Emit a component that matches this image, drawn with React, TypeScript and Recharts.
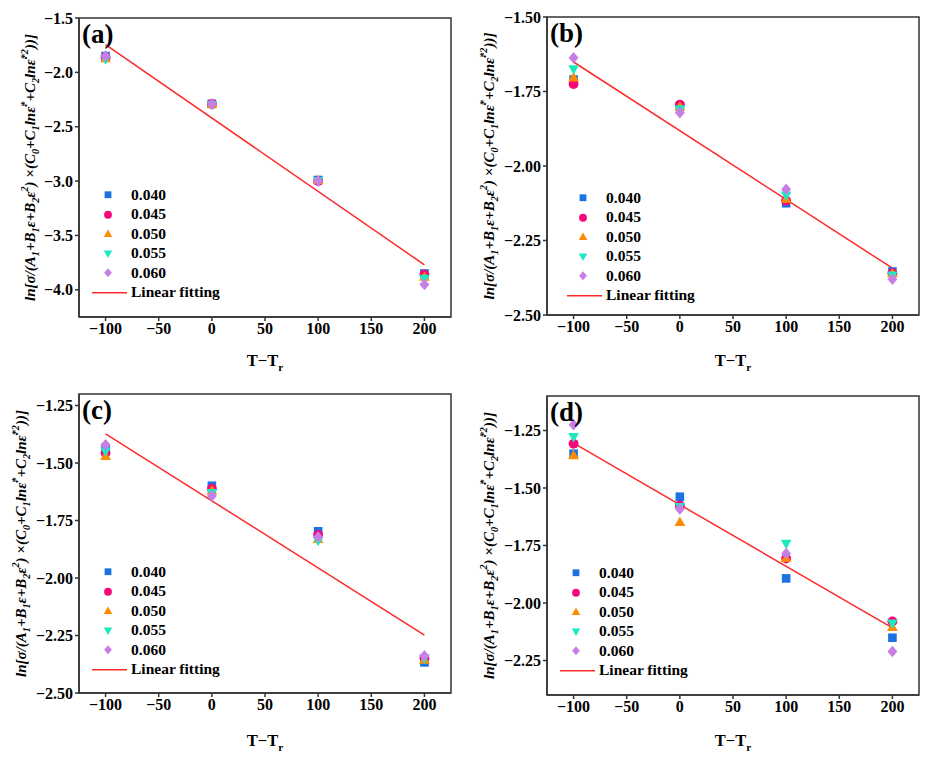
import { ScatterChart, Scatter, XAxis, YAxis, Legend, ReferenceArea } from 'recharts'

const FONT = '"Liberation Serif", "Times New Roman", "DejaVu Serif", serif'

const TEMPS = [-100, 0, 100, 200]
const STRAINS = ['0.040', '0.045', '0.050', '0.055', '0.060']
const X_TICKS = [-100, -50, 0, 50, 100, 150, 200]
const FIT_X = [-100, 200]

// (a)
const A_040 = [-1.85, -2.29, -2.99, -3.85]
const A_045 = [-1.86, -2.29, -3.0, -3.86]
const A_050 = [-1.87, -2.29, -2.99, -3.88]
const A_055 = [-1.88, -2.3, -3.0, -3.9]
const A_060 = [-1.85, -2.29, -3.0, -3.95]
const A_FIT = [-1.745, -3.77]
const A_TICKS = [-1.5, -2.0, -2.5, -3.0, -3.5, -4.0]

// (b)
const B_040 = [-1.71, -1.8, -2.125, -2.354]
const B_045 = [-1.725, -1.794, -2.117, -2.36]
const B_050 = [-1.703, -1.8, -2.11, -2.36]
const B_055 = [-1.676, -1.81, -2.099, -2.368]
const B_060 = [-1.637, -1.821, -2.078, -2.38]
const B_FIT = [-1.651, -2.343]
const B_TICKS = [-1.5, -1.75, -2.0, -2.25, -2.5]

// (c)
const C_040 = [-1.435, -1.599, -1.797, -2.367]
const C_045 = [-1.457, -1.612, -1.813, -2.348]
const C_050 = [-1.469, -1.619, -1.83, -2.355]
const C_055 = [-1.45, -1.631, -1.839, -2.35]
const C_060 = [-1.421, -1.643, -1.822, -2.338]
const C_FIT = [-1.373, -2.248]
const C_TICKS = [-1.25, -1.5, -1.75, -2.0, -2.25, -2.5]

// (d)
const D_040 = [-1.351, -1.538, -1.893, -2.151]
const D_045 = [-1.308, -1.576, -1.807, -2.08]
const D_050 = [-1.357, -1.647, -1.804, -2.104]
const D_055 = [-1.279, -1.583, -1.743, -2.09]
const D_060 = [-1.225, -1.591, -1.785, -2.211]
const D_FIT = [-1.305, -2.108]
const D_TICKS = [-1.25, -1.5, -1.75, -2.0, -2.25]

const MARKERS = [
  { kind: 'square', color: '#1a73e0' },
  { kind: 'circle', color: '#f5087a' },
  { kind: 'up', color: '#ff8c00' },
  { kind: 'down', color: '#1ee8c0' },
  { kind: 'diamond', color: '#c77fe6' },
]
const FIT_COLOR = '#ff2a2a'
const FRAME = '#333'

const PANELS = [
  { tag: '(a)', left: 0, top: 0, series: [A_040, A_045, A_050, A_055, A_060], fit: A_FIT, ticks: A_TICKS, domain: [-4.25, -1.5], digits: 1,
    box: { l: 79, r: 451, t: 18, b: 317 }, yLabelX: 30, legend: { x: 91, y: 185 } },
  { tag: '(b)', left: 464, top: 0, series: [B_040, B_045, B_050, B_055, B_060], fit: B_FIT, ticks: B_TICKS, domain: [-2.5, -1.5], digits: 2,
    box: { l: 83, r: 455, t: 17, b: 315 }, yLabelX: 25, legend: { x: 102, y: 188 } },
  { tag: '(c)', left: 0, top: 380, series: [C_040, C_045, C_050, C_055, C_060], fit: C_FIT, ticks: C_TICKS, domain: [-2.5, -1.2], digits: 2,
    box: { l: 79, r: 451, t: 14, b: 313 }, yLabelX: 21, legend: { x: 91, y: 182 } },
  { tag: '(d)', left: 464, top: 380, series: [D_040, D_045, D_050, D_055, D_060], fit: D_FIT, ticks: D_TICKS, domain: [-2.4, -1.1], digits: 2,
    box: { l: 83, r: 455, t: 16, b: 315 }, yLabelX: 25, legend: { x: 95, y: 183 } },
]

const W = 464
const H = 380
const ROW = 19.5

function Marker({ kind, cx, cy, color, s }: any) {
  if (kind === 'square') return <rect x={cx - s} y={cy - s} width={2 * s} height={2 * s} fill={color} />
  if (kind === 'circle') return <circle cx={cx} cy={cy} r={s * 1.15} fill={color} />
  if (kind === 'up')
    return <polygon points={`${cx},${cy - s * 1.25} ${cx + s * 1.25},${cy + s * 0.95} ${cx - s * 1.25},${cy + s * 0.95}`} fill={color} />
  if (kind === 'down')
    return <polygon points={`${cx},${cy + s * 1.25} ${cx + s * 1.25},${cy - s * 0.95} ${cx - s * 1.25},${cy - s * 0.95}`} fill={color} />
  return <polygon points={`${cx},${cy - s * 1.35} ${cx + s * 1.15},${cy} ${cx},${cy + s * 1.35} ${cx - s * 1.15},${cy}`} fill={color} />
}

function LegendBox() {
  return (
    <div style={{ fontFamily: FONT, fontWeight: 'bold', fontSize: 15.5, color: '#000' }}>
      {STRAINS.map((s, i) => (
        <div key={s} style={{ display: 'flex', alignItems: 'center', height: ROW }}>
          <svg width={40} height={ROW} style={{ display: 'block' }}>
            <Marker kind={MARKERS[i].kind} color={MARKERS[i].color} cx={17} cy={ROW / 2} s={3.4} />
          </svg>
          <span>{s}</span>
        </div>
      ))}
      <div style={{ display: 'flex', alignItems: 'center', height: ROW }}>
        <svg width={40} height={ROW} style={{ display: 'block' }}>
          <line x1={1} x2={36} y1={ROW / 2} y2={ROW / 2} stroke={FIT_COLOR} strokeWidth={1.5} />
        </svg>
        <span>Linear fitting</span>
      </div>
    </div>
  )
}

// label pieces: [text, 'sub' | 'sup' | undefined]
const Y_LABEL: [string, string?][] = [
  ['ln[σ/(A'], ['1', 'sub'], ['+B'], ['1', 'sub'], ['ε+B'], ['2', 'sub'], ['ε'], ['2', 'sup'],
  [') ×(C'], ['0', 'sub'], ['+C'], ['1', 'sub'], ['lnε̇'], ['*', 'sup'], ['+C'], ['2', 'sub'],
  ['lnε̇'], ['*2', 'sup'], ['))]'],
]

function richSpans(parts: [string, string?][], size: number) {
  let shift = 0
  const out: any[] = []
  parts.forEach(([t, kind], i) => {
    const target = kind === 'sub' ? size * 0.3 : kind === 'sup' ? -size * 0.4 : 0
    out.push(
      <tspan key={i} dy={target - shift} fontSize={kind ? size * 0.68 : size}>
        {t}
      </tspan>
    )
    shift = target
  })
  return out
}

function fmt(v: number, digits: number) {
  return v.toFixed(digits).replace('-', '\u2212')
}

function Panel({ cfg }: { cfg: (typeof PANELS)[number] }) {
  const { box } = cfg
  const cy = (box.t + box.b) / 2
  const cx = (box.l + box.r) / 2
  const tick = { fill: '#000', fontSize: 16, fontWeight: 'bold', fontFamily: FONT }
  return (
    <div style={{ position: 'absolute', left: cfg.left, top: cfg.top, width: W, height: H }}>
      <ScatterChart width={W} height={H} margin={{ top: box.t, right: W - box.r, bottom: 0, left: 0 }}>
        <XAxis
          type="number"
          dataKey="x"
          domain={[-125, 225]}
          ticks={X_TICKS}
          allowDataOverflow
          height={H - box.b}
          tick={tick}
          tickSize={4}
          tickLine={{ stroke: FRAME, strokeWidth: 1.5 }}
          axisLine={{ stroke: FRAME, strokeWidth: 1.5 }}
          tickFormatter={(v: number) => fmt(v, 0)}
          label={{
            content: () => (
              <text x={cx} y={366} textAnchor="middle" fontFamily={FONT} fontWeight="bold" fontSize={16.5} fill="#000">
                {richSpans([['T\u2212T'], ['r', 'sub']], 16.5)}
              </text>
            ),
          }}
        />
        <YAxis
          type="number"
          dataKey="y"
          domain={cfg.domain}
          ticks={cfg.ticks}
          allowDataOverflow
          width={box.l}
          tick={tick}
          tickSize={4}
          tickLine={{ stroke: FRAME, strokeWidth: 1.5 }}
          axisLine={{ stroke: FRAME, strokeWidth: 1.5 }}
          tickFormatter={(v: number) => fmt(v, cfg.digits)}
          label={{
            content: () => (
              <text
                x={cfg.yLabelX}
                y={cy}
                transform={`rotate(-90, ${cfg.yLabelX}, ${cy})`}
                textAnchor="middle"
                dominantBaseline="central"
                fontFamily={FONT}
                fontWeight="bold"
                fontStyle="italic"
                fontSize={15}
                fill="#000"
              >
                {richSpans(Y_LABEL, 15)}
              </text>
            ),
          }}
        />
        <ReferenceArea
          x1={-125}
          x2={225}
          y1={cfg.domain[0]}
          y2={cfg.domain[1]}
          fill="none"
          stroke={FRAME}
          strokeWidth={1.5}
          strokeOpacity={1}
        />
        <Scatter
          name="Linear fitting"
          data={FIT_X.map((x, i) => ({ x, y: cfg.fit[i] }))}
          line={{ stroke: FIT_COLOR, strokeWidth: 1.5 }}
          shape={() => <g />}
          isAnimationActive={false}
        />
        {cfg.series.map((vals, i) => (
          <Scatter
            key={STRAINS[i]}
            name={STRAINS[i]}
            data={TEMPS.map((x, j) => ({ x, y: vals[j] }))}
            fill={MARKERS[i].color}
            shape={(p: any) => <Marker kind={MARKERS[i].kind} color={MARKERS[i].color} cx={p.cx} cy={p.cy} s={4.3} />}
            isAnimationActive={false}
          />
        ))}
        <Legend
          layout="vertical"
          align="center"
          verticalAlign="middle"
          content={() => <LegendBox />}
          wrapperStyle={{ left: cfg.legend.x, top: cfg.legend.y, width: 'auto', height: 'auto' }}
        />
      </ScatterChart>
      <div
        style={{
          position: 'absolute',
          left: box.l + 3,
          top: box.t + 1,
          fontFamily: FONT,
          fontWeight: 'bold',
          fontSize: 27,
          lineHeight: '30px',
          color: '#000',
        }}
      >
        {cfg.tag}
      </div>
    </div>
  )
}

export default function App() {
  return (
    <div style={{ position: 'absolute', left: 0, top: 0, width: 929, height: 760, background: '#fff' }}>
      {PANELS.map((p) => (
        <Panel key={p.tag} cfg={p} />
      ))}
    </div>
  )
}
